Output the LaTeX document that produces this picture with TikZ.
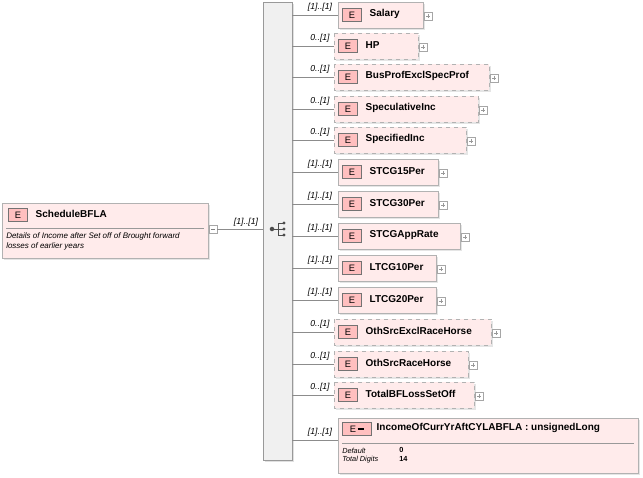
\documentclass[tikz,border=0pt]{standalone}
\usepackage{fontspec}
\setmainfont{Liberation Sans}
\begin{document}
\begin{tikzpicture}[x=0.75pt,y=-0.75pt,
  box/.style={draw=black!30,fill=red!8,line width=0.6pt},
  opt/.style={box,dashed},
  ebox/.style={draw=black!55,fill=red!25,minimum width=14pt,minimum height=10pt,inner sep=0pt,font=\fontsize{7}{8}\selectfont},
  nm/.style={anchor=west,font=\bfseries\fontsize{7.5}{9}\selectfont},
  card/.style={font=\itshape\fontsize{6.5}{7}\selectfont,anchor=south},
  pl/.style={draw=black!35,fill=white,minimum size=6pt,inner sep=0pt},
  ln/.style={draw=black!45,line width=0.5pt}]
\useasboundingbox (0,0) rectangle (643,478);
% root
\fill[black!10] (4,205) rectangle (210,260);
\draw[box] (2,203) rectangle (208,258);
\draw[black!40] (6,228) -- (204,228);
\node[ebox] (re) at (18,215) {E};
\node[nm] (rn) at (31,214) {ScheduleBFLA};
\node[anchor=north west,align=left,font=\itshape\fontsize{6}{7.5}\selectfont,inner sep=0pt] (rd) at (6,232) {Details of Income after Set off of Brought forward\\losses of earlier years};
\node[pl] (rm) at (213,229) {};
\draw[black!50] (211,229) -- (215,229);
% sequence bar
\fill[black!12] (265,4) rectangle (294,462);
\draw[draw=black!40,fill=black!6] (263,2) rectangle (292,460);
\coordinate (sq) at (263,229);
\draw[ln] (rm) -- (sq);
\node[card] at (246,231) {[1]..[1]};
% sequence symbol
\node[circle,fill=black!70,inner sep=1.2pt] (s0) at (272,229) {};
\draw[black!70] (272,229) -- (278,229) (278,223) -- (278,235);
\foreach \yy in {223,229,235}{\draw[black!70] (278,\yy) -- (283,\yy); \fill[black!70] (284,\yy) circle (1.6);}
% children
\foreach \y/\nme/\w/\o/\c [count=\i] in {
 15/Salary/423/0/{[1]..[1]},
 46/HP/418/1/{0..[1]},
 77/BusProfExclSpecProf/489/1/{0..[1]},
 109/SpeculativeInc/478/1/{0..[1]},
 140/SpecifiedInc/466/1/{0..[1]},
 172/STCG15Per/438/0/{[1]..[1]},
 204/STCG30Per/438/0/{[1]..[1]},
 236/STCGAppRate/460/0/{[1]..[1]},
 268/LTCG10Per/436/0/{[1]..[1]},
 300/LTCG20Per/436/0/{[1]..[1]},
 332/OthSrcExclRaceHorse/491/1/{0..[1]},
 364/OthSrcRaceHorse/468/1/{0..[1]},
 395/TotalBFLossSetOff/474/1/{0..[1]}}{
  \ifnum\o=1
    \fill[black!10] (336,\y-11) rectangle (\w+2,\y+15);
    \draw[opt] (334,\y-13) rectangle (\w,\y+13);
    \def\xs{334}
  \else
    \fill[black!10] (340,\y-11) rectangle (\w+2,\y+15);
    \draw[box] (338,\y-13) rectangle (\w,\y+13);
    \def\xs{338}
  \fi
  \node[ebox] (e\i) at (\xs+14,\y) {E};
  \node[nm] (n\i) at (\xs+27,\y-1) {\nme};
  \node[pl] (p\i) at (\w+5,\y+1) {};
  \draw[black!40,line width=0.3pt] (\w+3,\y+1) -- (\w+7,\y+1) (\w+5,\y-1) -- (\w+5,\y+3);
  \coordinate (c\i) at (292,\y);
  \draw[ln] (c\i) -- (\xs,\y);
  \node[card] at (320,\y+1) {\c};
}
% last
\fill[black!10] (340,420) rectangle (640,475);
\draw[box] (338,418) rectangle (638,473);
\draw[black!40] (342,443) -- (634,443);
\node[ebox,minimum width=22pt] (e14) at (357,429) {E\,\rule[0.5ex]{5pt}{1.5pt}};
\node[nm] (n14) at (372,428) {IncomeOfCurrYrAftCYLABFLA : unsignedLong};
\coordinate (c14) at (292,440);
\draw[ln] (c14) -- (338,440);
\node[card] at (320,441) {[1]..[1]};
\node[anchor=west,font=\itshape\fontsize{5.5}{6}\selectfont,inner sep=0pt] (d1) at (342,451) {Default};
\node[anchor=west,font=\itshape\fontsize{5.5}{6}\selectfont,inner sep=0pt] (d2) at (342,460) {Total Digits};
\node[anchor=west,font=\bfseries\fontsize{5.5}{6}\selectfont,inner sep=0pt] (v1) at (399,450) {0};
\node[anchor=west,font=\bfseries\fontsize{5.5}{6}\selectfont,inner sep=0pt] (v2) at (399,459) {14};
\end{tikzpicture}
\end{document}
